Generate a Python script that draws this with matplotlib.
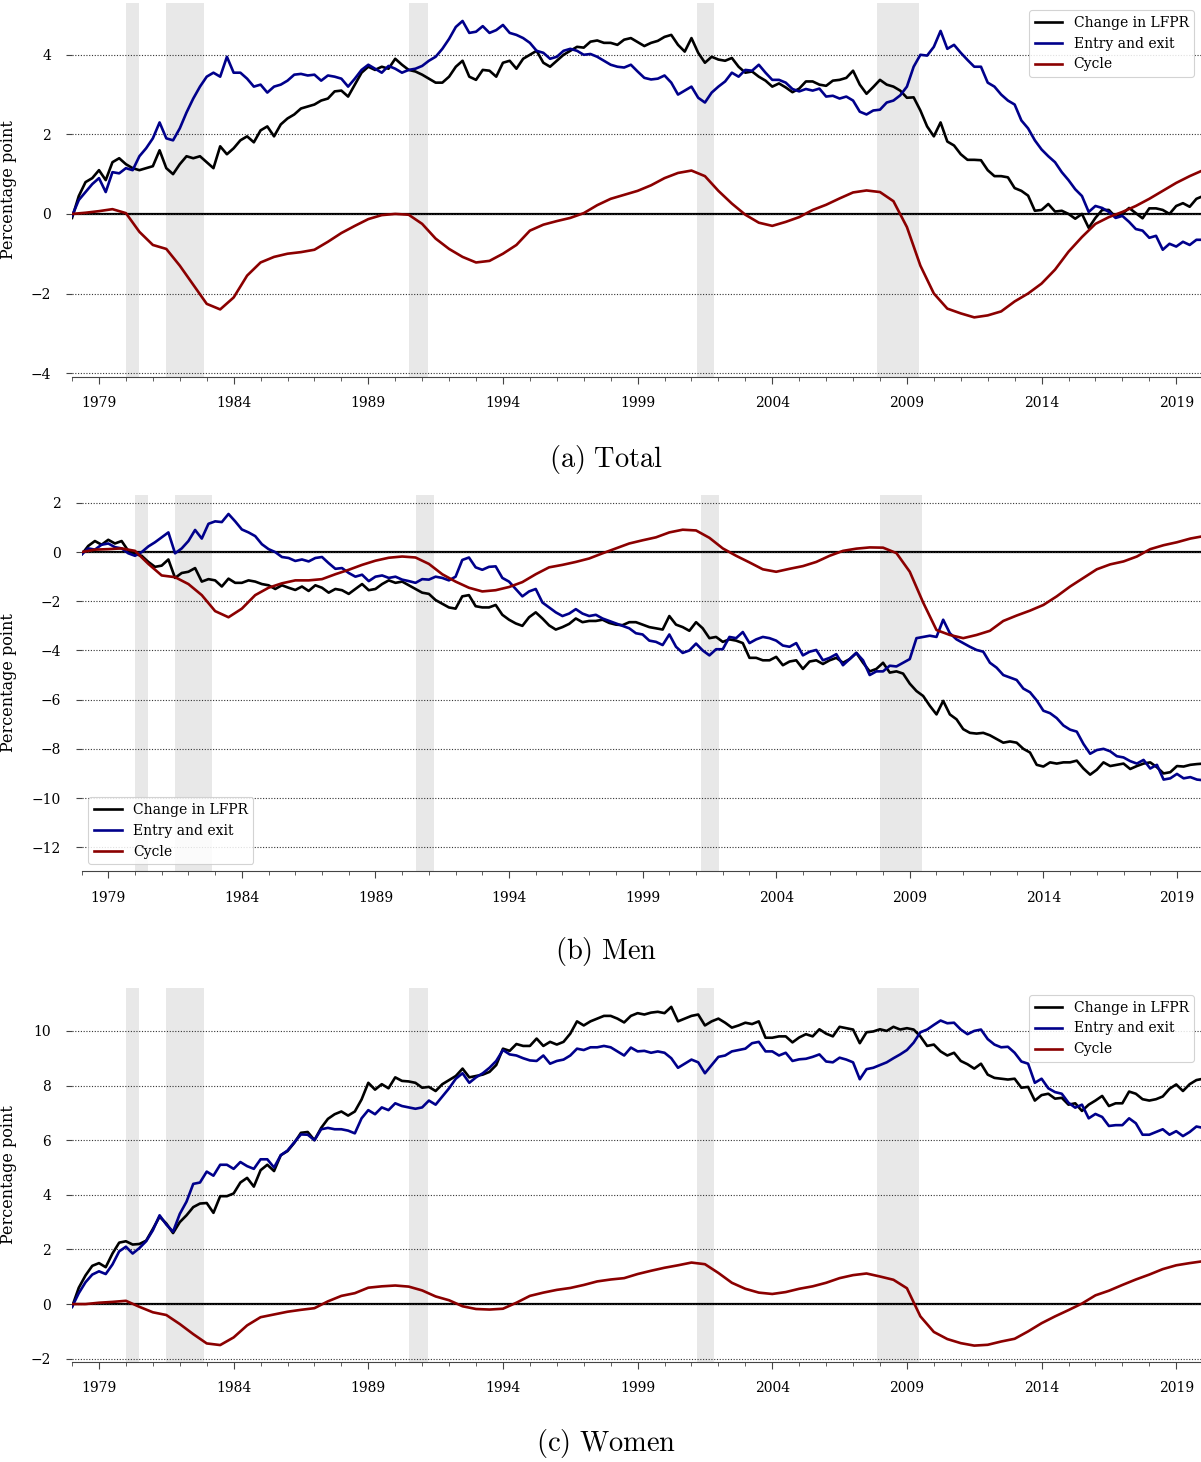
import numpy as np
import matplotlib
matplotlib.use("Agg")
import matplotlib.pyplot as plt

plt.rcParams["font.family"] = "DejaVu Serif"
plt.rcParams["mathtext.fontset"] = "cm"

# quarterly observations (Jan 1978 .. Jan 2020) and half-yearly cycle component
q_years = 1978 + 0.25 * np.arange(169)
h_years = 1978 + 0.5 * np.arange(85)

# NBER recessions (start, end) in decimal years
recessions = [(1980.0, 1980.5), (1981.5, 1982.9), (1990.5, 1991.2),
              (2001.2, 2001.85), (2007.9, 2009.45)]

# ---- Total ----
total_lfpr = [
    -0.10, 0.45, 0.80, 0.90,
    1.10, 0.85, 1.30, 1.40,
    1.25, 1.15, 1.10, 1.15,
    1.20, 1.60, 1.15, 1.00,
    1.25, 1.45, 1.40, 1.45,
    1.30, 1.15, 1.70, 1.50,
    1.65, 1.85, 1.95, 1.80,
    2.10, 2.20, 1.95, 2.25,
    2.40, 2.50, 2.65, 2.70,
    2.75, 2.85, 2.90, 3.08,
    3.10, 2.95, 3.25, 3.55,
    3.70, 3.62, 3.70, 3.65,
    3.90, 3.75, 3.62, 3.58,
    3.50, 3.40, 3.30, 3.30,
    3.45, 3.70, 3.85, 3.45,
    3.37, 3.62, 3.60, 3.45,
    3.80, 3.85, 3.65, 3.90,
    4.00, 4.10, 3.80, 3.70,
    3.85, 4.00, 4.10, 4.20,
    4.18, 4.33, 4.36, 4.30,
    4.30, 4.25, 4.38, 4.42,
    4.32, 4.22, 4.30, 4.35,
    4.45, 4.50, 4.25, 4.08,
    4.42, 4.05, 3.80, 3.95,
    3.88, 3.85, 3.92, 3.70,
    3.55, 3.58, 3.45, 3.35,
    3.20, 3.28, 3.18, 3.06,
    3.15, 3.33, 3.33, 3.25,
    3.22, 3.35, 3.37, 3.42,
    3.60, 3.25, 3.02, 3.19,
    3.37, 3.25, 3.20, 3.10,
    2.92, 2.93, 2.60, 2.20,
    1.95, 2.30, 1.82, 1.72,
    1.50, 1.36, 1.36, 1.35,
    1.10, 0.95, 0.95, 0.92,
    0.65, 0.58, 0.46, 0.08,
    0.10, 0.25, 0.06, 0.08,
    0.00, -0.12, 0.00, -0.35,
    -0.10, 0.10, 0.10, -0.08,
    0.00, 0.15, 0.02, -0.11,
    0.14, 0.14, 0.10, 0.00,
    0.20, 0.27, 0.18, 0.38,
    0.45,
]
total_entry = [
    -0.05, 0.35, 0.55, 0.75,
    0.90, 0.55, 1.05, 1.02,
    1.15, 1.10, 1.45, 1.65,
    1.90, 2.30, 1.90, 1.85,
    2.15, 2.55, 2.90, 3.20,
    3.45, 3.55, 3.45, 3.95,
    3.55, 3.55, 3.40, 3.20,
    3.25, 3.05, 3.20, 3.25,
    3.35, 3.50, 3.52, 3.48,
    3.50, 3.35, 3.48, 3.45,
    3.40, 3.20, 3.40, 3.62,
    3.75, 3.65, 3.55, 3.72,
    3.65, 3.55, 3.62, 3.65,
    3.72, 3.85, 3.95, 4.15,
    4.40, 4.70, 4.85, 4.55,
    4.58, 4.72, 4.55, 4.62,
    4.75, 4.55, 4.50, 4.42,
    4.30, 4.10, 4.05, 3.90,
    3.95, 4.10, 4.15, 4.10,
    4.00, 4.02, 3.95, 3.85,
    3.75, 3.70, 3.68, 3.75,
    3.58, 3.42, 3.38, 3.40,
    3.48, 3.30, 3.00, 3.10,
    3.20, 2.92, 2.80, 3.05,
    3.20, 3.33, 3.55, 3.45,
    3.62, 3.60, 3.75, 3.55,
    3.37, 3.37, 3.30, 3.14,
    3.08, 3.14, 3.10, 3.15,
    2.95, 2.97, 2.90, 2.95,
    2.85, 2.57, 2.50, 2.60,
    2.62, 2.80, 2.85, 2.98,
    3.20, 3.70, 4.00, 3.98,
    4.20, 4.60, 4.15, 4.25,
    4.05, 3.87, 3.70, 3.70,
    3.30, 3.20, 3.00, 2.85,
    2.75, 2.35, 2.15, 1.85,
    1.62, 1.45, 1.30, 1.05,
    0.85, 0.62, 0.45, 0.05,
    0.20, 0.15, 0.05, -0.10,
    -0.05, -0.20, -0.38, -0.42,
    -0.60, -0.55, -0.90, -0.75,
    -0.82, -0.70, -0.78, -0.65,
    -0.65,
]
total_cycle = [
    0.00, 0.03, 0.07, 0.12, 0.02, -0.45, -0.78, -0.88, -1.30, -1.78,
    -2.26, -2.40, -2.10, -1.55, -1.22, -1.08, -1.00, -0.96, -0.90, -0.70,
    -0.48, -0.30, -0.13, -0.03, 0.00, -0.02, -0.25, -0.62, -0.88, -1.08,
    -1.22, -1.18, -1.00, -0.78, -0.42, -0.27, -0.18, -0.10, 0.02, 0.22,
    0.38, 0.48, 0.58, 0.72, 0.90, 1.03, 1.09, 0.95, 0.58, 0.26,
    -0.02, -0.22, -0.30, -0.20, -0.08, 0.10, 0.23, 0.39, 0.54, 0.59,
    0.55, 0.32, -0.33, -1.30, -2.00, -2.38, -2.50, -2.60, -2.55, -2.45,
    -2.20, -2.00, -1.75, -1.40, -0.95, -0.58, -0.25, -0.08, 0.05, 0.20,
    0.38, 0.58, 0.78, 0.95, 1.10,
]

# ---- Men ----
men_lfpr = [
    -0.10, 0.25, 0.45, 0.30,
    0.50, 0.35, 0.45, 0.05,
    -0.08, -0.15, -0.40, -0.60,
    -0.55, -0.30, -1.05, -0.85,
    -0.80, -0.65, -1.20, -1.10,
    -1.15, -1.40, -1.08, -1.25,
    -1.25, -1.15, -1.20, -1.30,
    -1.35, -1.50, -1.35, -1.45,
    -1.54, -1.40, -1.58, -1.35,
    -1.45, -1.65, -1.50, -1.55,
    -1.70, -1.50, -1.30, -1.55,
    -1.50, -1.30, -1.15, -1.25,
    -1.20, -1.35, -1.50, -1.65,
    -1.70, -1.95, -2.10, -2.25,
    -2.30, -1.80, -1.75, -2.20,
    -2.25, -2.25, -2.15, -2.55,
    -2.75, -2.90, -3.00, -2.65,
    -2.45, -2.70, -2.98, -3.15,
    -3.05, -2.92, -2.70, -2.85,
    -2.80, -2.80, -2.75, -2.88,
    -2.95, -2.97, -2.85, -2.85,
    -2.95, -3.05, -3.10, -3.15,
    -2.60, -2.95, -3.05, -3.20,
    -2.85, -3.10, -3.50, -3.45,
    -3.65, -3.55, -3.60, -3.70,
    -4.30, -4.30, -4.40, -4.40,
    -4.26, -4.60, -4.45, -4.40,
    -4.75, -4.45, -4.40, -4.55,
    -4.40, -4.30, -4.50, -4.35,
    -4.10, -4.50, -4.85, -4.75,
    -4.50, -4.90, -4.85, -4.94,
    -5.35, -5.65, -5.85, -6.25,
    -6.60, -6.05, -6.60, -6.80,
    -7.20, -7.35, -7.38, -7.35,
    -7.45, -7.60, -7.75, -7.70,
    -7.75, -8.00, -8.15, -8.65,
    -8.72, -8.55, -8.60, -8.55,
    -8.55, -8.48, -8.80, -9.05,
    -8.85, -8.55, -8.70, -8.65,
    -8.60, -8.82, -8.70, -8.60,
    -8.55, -8.75, -9.00, -8.95,
    -8.70, -8.72, -8.65, -8.62,
    -8.60,
]
men_entry = [
    -0.10, 0.15, 0.10, 0.30,
    0.35, 0.20, 0.15, -0.05,
    -0.15, 0.00, 0.23, 0.40,
    0.60, 0.80, -0.05, 0.15,
    0.45, 0.90, 0.55, 1.15,
    1.25, 1.22, 1.55, 1.25,
    0.92, 0.80, 0.65, 0.32,
    0.12, 0.00, -0.20, -0.24,
    -0.36, -0.30, -0.38, -0.24,
    -0.20, -0.45, -0.68, -0.65,
    -0.85, -1.00, -0.92, -1.18,
    -1.00, -0.95, -1.05, -1.00,
    -1.12, -1.18, -1.25, -1.10,
    -1.12, -1.00, -1.05, -1.15,
    -1.00, -0.32, -0.22, -0.62,
    -0.72, -0.60, -0.58, -1.05,
    -1.20, -1.50, -1.80, -1.60,
    -1.50, -2.05, -2.25, -2.45,
    -2.60, -2.50, -2.32, -2.50,
    -2.60, -2.55, -2.70, -2.80,
    -2.90, -3.00, -3.10, -3.30,
    -3.35, -3.60, -3.65, -3.78,
    -3.35, -3.85, -4.10, -4.00,
    -3.72, -4.00, -4.20, -3.95,
    -3.95, -3.45, -3.50, -3.25,
    -3.70, -3.55, -3.45, -3.50,
    -3.60, -3.80, -3.85, -3.70,
    -4.20, -4.05, -3.98, -4.40,
    -4.30, -4.15, -4.60, -4.35,
    -4.10, -4.40, -5.00, -4.85,
    -4.85, -4.62, -4.65, -4.50,
    -4.35, -3.50, -3.45, -3.40,
    -3.45, -2.75, -3.30, -3.55,
    -3.70, -3.85, -3.98, -4.05,
    -4.50, -4.70, -5.00, -5.10,
    -5.20, -5.55, -5.70, -6.03,
    -6.45, -6.55, -6.75, -7.05,
    -7.22, -7.30, -7.80, -8.20,
    -8.05, -8.00, -8.10, -8.30,
    -8.35, -8.50, -8.60, -8.45,
    -8.80, -8.65, -9.25, -9.20,
    -9.02, -9.20, -9.15, -9.25,
    -9.28,
]
men_cycle = [
    0.00, 0.10, 0.12, 0.15, 0.05, -0.48, -0.95, -1.02, -1.30, -1.75,
    -2.40, -2.65, -2.30, -1.75, -1.45, -1.27, -1.15, -1.15, -1.10, -0.90,
    -0.72, -0.52, -0.35, -0.23, -0.18, -0.22, -0.48, -0.90, -1.20, -1.45,
    -1.60, -1.55, -1.42, -1.22, -0.90, -0.62, -0.52, -0.40, -0.26, -0.05,
    0.15, 0.35, 0.48, 0.60, 0.80, 0.91, 0.88, 0.58, 0.15, -0.15,
    -0.42, -0.70, -0.80, -0.68, -0.57, -0.40, -0.15, 0.05, 0.14, 0.19,
    0.18, -0.04, -0.80, -2.05, -3.17, -3.37, -3.50, -3.37, -3.20, -2.80,
    -2.58, -2.38, -2.15, -1.80, -1.40, -1.05, -0.70, -0.50, -0.38, -0.18,
    0.12, 0.28, 0.40, 0.55, 0.65,
]

# ---- Women ----
women_lfpr = [
    -0.10, 0.60, 1.05, 1.40,
    1.50, 1.35, 1.85, 2.25,
    2.30, 2.18, 2.20, 2.32,
    2.75, 3.20, 2.95, 2.60,
    3.00, 3.25, 3.55, 3.68,
    3.70, 3.34, 3.95, 3.95,
    4.05, 4.45, 4.62, 4.30,
    4.90, 5.10, 4.87, 5.45,
    5.60, 5.90, 6.27, 6.30,
    6.00, 6.45, 6.78, 6.95,
    7.05, 6.90, 7.05, 7.49,
    8.10, 7.85, 8.05, 7.90,
    8.30, 8.17, 8.15, 8.10,
    7.92, 7.95, 7.80, 8.05,
    8.20, 8.35, 8.62, 8.30,
    8.35, 8.40, 8.50, 8.75,
    9.35, 9.27, 9.52, 9.45,
    9.45, 9.72, 9.45, 9.60,
    9.50, 9.60, 9.90, 10.35,
    10.20, 10.35, 10.45, 10.55,
    10.55, 10.45, 10.31, 10.55,
    10.65, 10.60, 10.67, 10.70,
    10.65, 10.88, 10.35, 10.45,
    10.55, 10.60, 10.20, 10.35,
    10.45, 10.30, 10.12, 10.20,
    10.30, 10.25, 10.35, 9.75,
    9.75, 9.80, 9.80, 9.58,
    9.76, 9.88, 9.80, 10.06,
    9.90, 9.80, 10.15, 10.10,
    10.05, 9.55, 9.95, 9.98,
    10.06, 10.00, 10.15, 10.05,
    10.10, 10.05, 9.80, 9.45,
    9.50, 9.25, 9.10, 9.20,
    8.90, 8.78, 8.62, 8.80,
    8.40, 8.28, 8.25, 8.22,
    8.25, 7.92, 7.95, 7.45,
    7.65, 7.70, 7.52, 7.55,
    7.30, 7.35, 7.07, 7.30,
    7.45, 7.62, 7.25, 7.35,
    7.35, 7.78, 7.70, 7.50,
    7.45, 7.50, 7.60, 7.88,
    8.04, 7.80, 8.05, 8.20,
    8.25,
]
women_entry = [
    -0.10, 0.40, 0.80, 1.08,
    1.20, 1.10, 1.45, 1.93,
    2.10, 1.85, 2.05, 2.30,
    2.70, 3.25, 2.91, 2.65,
    3.30, 3.75, 4.40, 4.45,
    4.85, 4.70, 5.10, 5.10,
    4.95, 5.20, 5.05, 4.95,
    5.30, 5.30, 5.00, 5.45,
    5.62, 5.92, 6.21, 6.20,
    6.00, 6.40, 6.45, 6.40,
    6.40, 6.35, 6.25, 6.80,
    7.10, 6.95, 7.20, 7.10,
    7.35, 7.25, 7.20, 7.15,
    7.20, 7.45, 7.30, 7.60,
    7.90, 8.25, 8.45, 8.10,
    8.30, 8.45, 8.65, 8.90,
    9.30, 9.14, 9.10, 9.00,
    8.92, 8.90, 9.10, 8.80,
    8.90, 8.95, 9.10, 9.35,
    9.30, 9.40, 9.40, 9.45,
    9.40, 9.25, 9.10, 9.39,
    9.25, 9.27, 9.20, 9.25,
    9.20, 9.00, 8.65, 8.80,
    8.95, 8.85, 8.45, 8.75,
    9.05, 9.10, 9.25, 9.30,
    9.35, 9.55, 9.60, 9.25,
    9.25, 9.10, 9.20, 8.90,
    8.96, 8.98, 9.05, 9.14,
    8.88, 8.85, 9.02, 8.95,
    8.85, 8.23, 8.60, 8.65,
    8.75, 8.85, 9.00, 9.14,
    9.30, 9.57, 9.95, 10.05,
    10.22, 10.38, 10.28, 10.30,
    10.05, 9.88, 10.00, 10.05,
    9.70, 9.50, 9.40, 9.42,
    9.20, 8.88, 8.80, 8.10,
    8.25, 7.90, 7.76, 7.70,
    7.37, 7.19, 7.30, 6.80,
    6.96, 6.85, 6.52, 6.55,
    6.55, 6.80, 6.62, 6.20,
    6.20, 6.30, 6.40, 6.20,
    6.33, 6.15, 6.30, 6.50,
    6.45,
]
women_cycle = [
    0.00, 0.00, 0.05, 0.08, 0.12, -0.10, -0.30, -0.40, -0.73, -1.10,
    -1.44, -1.50, -1.22, -0.78, -0.48, -0.38, -0.28, -0.21, -0.15, 0.10,
    0.30, 0.40, 0.60, 0.65, 0.68, 0.64, 0.50, 0.28, 0.14, -0.08,
    -0.18, -0.20, -0.17, 0.05, 0.30, 0.42, 0.52, 0.59, 0.70, 0.83,
    0.90, 0.95, 1.10, 1.22, 1.33, 1.42, 1.52, 1.46, 1.14, 0.78,
    0.56, 0.42, 0.37, 0.44, 0.56, 0.65, 0.78, 0.95, 1.06, 1.12,
    1.01, 0.89, 0.58, -0.45, -1.02, -1.28, -1.43, -1.52, -1.49, -1.37,
    -1.27, -1.00, -0.70, -0.45, -0.22, 0.02, 0.32, 0.49, 0.70, 0.90,
    1.08, 1.28, 1.42, 1.50, 1.57,
]

panels = [
    dict(lfpr=total_lfpr, entry=total_entry, cycle=total_cycle,
         rect=[0.0600, 0.7421, 0.9400, 0.2558], xlim=(1978.0, 2019.92),
         ylim=(-4.1, 5.3), yticks=range(-4, 5, 2), legend="upper right",
         label_x=-0.049, caption=r"$\mathrm{(a)\ Total}$", cap_y=459),
    dict(lfpr=men_lfpr, entry=men_entry, cycle=men_cycle,
         rect=[0.0679, 0.4042, 0.9321, 0.2572], xlim=(1978.0, 2019.9),
         ylim=(-12.97, 2.32), yticks=range(-12, 3, 2), legend="lower left",
         label_x=-0.058, caption=r"$\mathrm{(b)\ Men}$", cap_y=951),
    dict(lfpr=women_lfpr, entry=women_entry, cycle=women_cycle,
         rect=[0.0600, 0.0684, 0.9400, 0.2558], xlim=(1978.0, 2019.92),
         ylim=(-2.12, 11.57), yticks=range(-2, 11, 2), legend="upper right",
         label_x=-0.049, caption=r"$\mathrm{(c)\ Women}$", cap_y=1444),
]

fig = plt.figure(figsize=(12.01, 14.62), dpi=100)

for p in panels:
    ax = fig.add_axes(p["rect"])
    for start, end in recessions:
        ax.axvspan(start, end, color="#e8e8e8", lw=0, zorder=0)
    ax.axhline(0, color="black", lw=1.6, zorder=1)
    ax.plot(q_years, p["lfpr"], color="black", lw=1.9, label="Change in LFPR", zorder=2)
    ax.plot(q_years, p["entry"], color="darkblue", lw=1.9, label="Entry and exit", zorder=2)
    ax.plot(h_years, p["cycle"], color="darkred", lw=1.9, label="Cycle", zorder=2)

    ax.set_xlim(*p["xlim"])
    ax.set_ylim(*p["ylim"])
    ax.set_yticks(list(p["yticks"]))
    ax.set_xticks(range(1979, 2020, 5))
    ax.set_xticks(range(1978, 2020), minor=True)
    ax.grid(axis="y", linestyle=(0, (1, 1.5)), color="#333333", lw=0.8)

    for side in ("top", "right", "left"):
        ax.spines[side].set_visible(False)
    ax.spines["bottom"].set_color("#444444")
    ax.tick_params(axis="x", which="major", length=5, color="#444444", pad=9, labelsize=10)
    ax.tick_params(axis="x", which="minor", length=3, color="#444444")
    ax.tick_params(axis="y", length=4, color="#444444", pad=11, labelsize=10)

    ax.set_ylabel("Percentage point", fontsize=11.5)
    ax.yaxis.set_label_coords(p["label_x"], 0.5)

    leg = ax.legend(loc=p["legend"], fontsize=10, framealpha=0.85,
                    edgecolor="#cccccc", fancybox=True)
    leg.get_frame().set_linewidth(0.8)

    fig.text(0.505, 1 - p["cap_y"] / 1462, p["caption"], ha="center",
             va="center", fontsize=20.5)

fig.savefig("out.png", dpi=100)
